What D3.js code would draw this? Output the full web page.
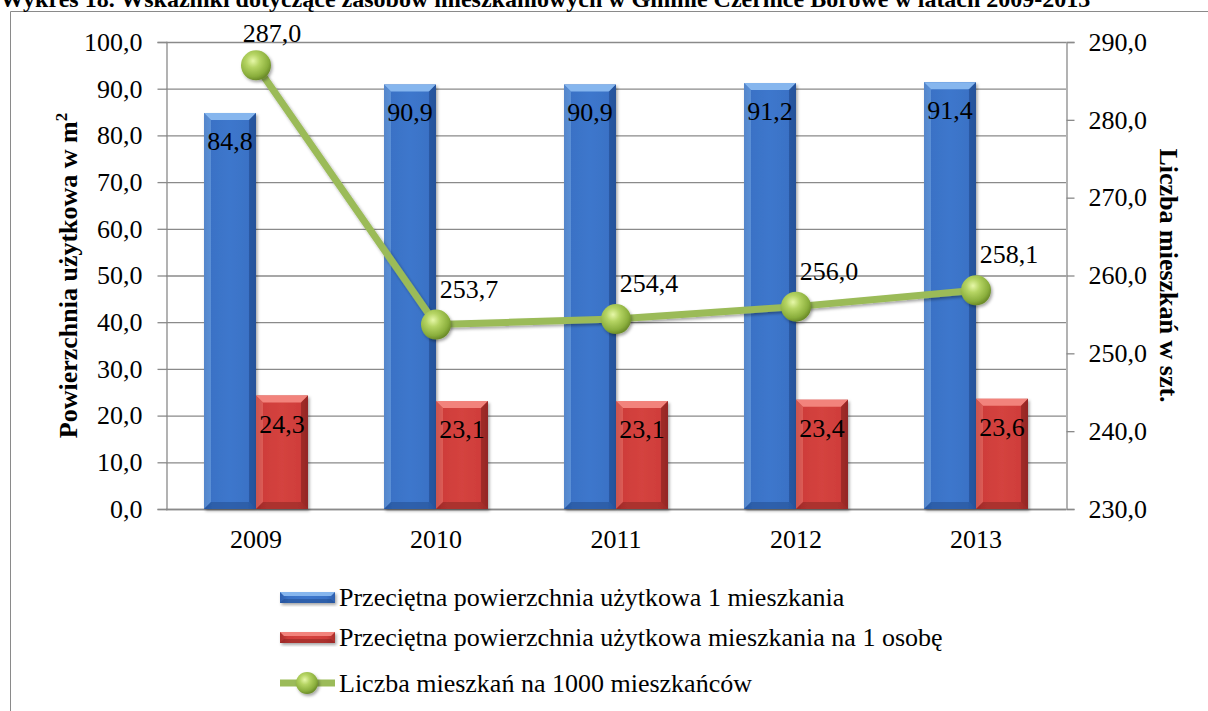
<!DOCTYPE html>
<html><head><meta charset="utf-8">
<script src="https://cdn.jsdelivr.net/npm/d3@7/dist/d3.min.js"></script>
<style>body{margin:0;background:#fff}svg{display:block;font-family:"Liberation Serif","Times New Roman",serif}</style>
</head><body>
<script>
const years = ["2009","2010","2011","2012","2013"];
const avgArea = [84.8, 90.9, 90.9, 91.2, 91.4];
const areaPerPerson = [24.3, 23.1, 23.1, 23.4, 23.6];
const flatsPer1000 = [287.0, 253.7, 254.4, 256.0, 258.1];
const leftTicks = [0,10,20,30,40,50,60,70,80,90,100];
const rightTicks = [230,240,250,260,270,280,290];
const seriesNames = ["Przeciętna powierzchnia użytkowa 1 mieszkania","Przeciętna powierzchnia użytkowa mieszkania na 1 osobę","Liczba mieszkań na 1000 mieszkańców"];
const title = "Wykres 18. Wskaźniki dotyczące zasobów mieszkaniowych w Gminie Czernice Borowe w latach 2009-2013";

const W=1208,H=711, FS=26;
const m={l:166,r:1066,t:42,b:509};
const fmt = v => v.toFixed(1).replace(".",",");
const svg=d3.select("body").append("svg").attr("width",W).attr("height",H);
const defs=svg.append("defs");
function hgrad(id,stops){const g=defs.append("linearGradient").attr("id",id).attr("x1","0").attr("x2","1").attr("y1","0").attr("y2","0");stops.forEach(s=>g.append("stop").attr("offset",s[0]).attr("stop-color",s[1]));}
hgrad("gBlue",[[0,"#2d5fae"],[0.15,"#3a72c6"],[0.5,"#3d77cc"],[0.85,"#3a72c6"],[1,"#2d5fae"]]);
hgrad("gRed",[[0,"#a92f2c"],[0.15,"#cf3d3a"],[0.5,"#d4433f"],[0.85,"#cf3d3a"],[1,"#a92f2c"]]);
const rg=defs.append("radialGradient").attr("id","gBall").attr("cx","0.4").attr("cy","0.35").attr("r","0.65");
[[0,"#e6f7a8"],[0.35,"#b5d463"],[0.8,"#8aae3c"],[1,"#6c8c2a"]].forEach(s=>rg.append("stop").attr("offset",s[0]).attr("stop-color",s[1]));
const f=defs.append("filter").attr("id","sh").attr("x","-30%").attr("y","-30%").attr("width","160%").attr("height","160%");
f.append("feDropShadow").attr("dx",1.5).attr("dy",2).attr("stdDeviation",1.5).attr("flood-color","#000").attr("flood-opacity",0.35);

// frame
svg.append("path").attr("d",`M10.5,${H} V11.5 H${W}`).attr("fill","none").attr("stroke","#8a8a8a").attr("stroke-width",1);
// title
svg.append("text").attr("x",0).attr("y",7).attr("font-size",24).attr("font-weight","bold").text(title);

const x=d3.scaleBand().domain(years).range([m.l,m.r]).paddingInner(0).paddingOuter(0);
const yL=d3.scaleLinear().domain([0,100]).range([m.b,m.t]);
const yR=d3.scaleLinear().domain([230,290]).range([m.b,m.t]);

// gridlines
svg.append("g").selectAll("line").data(leftTicks).join("line")
 .attr("x1",m.l).attr("x2",m.r).attr("y1",d=>yL(d)+0.5).attr("y2",d=>yL(d)+0.5)
 .attr("stroke","#8a8a8a").attr("stroke-width",1.3);

// axes
const axL=svg.append("g").attr("transform",`translate(${m.l+0.5},0)`)
 .call(d3.axisLeft(yL).tickValues(leftTicks).tickFormat(fmt).tickSize(9).tickPadding(15));
const axR=svg.append("g").attr("transform",`translate(${m.r+0.5},0)`)
 .call(d3.axisRight(yR).tickValues(rightTicks).tickFormat(fmt).tickSize(8).tickPadding(14));
const axB=svg.append("g").attr("transform",`translate(0,${m.b+0.5})`)
 .call(d3.axisBottom(x).tickSize(0).tickPadding(20));
[axL,axR,axB].forEach(a=>{a.attr("font-family",null);a.selectAll("path,line").attr("stroke","#8a8a8a").attr("stroke-width",1.3);a.selectAll("text").attr("font-size",FS).attr("fill","#000");});
axB.select("path").attr("d",`M${m.l},0H${m.r}`);

// bars
const bw=52;
function bar(g,xl,top,bot,fill,light,dark){
  const h=bot-top, b=Math.min(7,h/2);
  g.append("rect").attr("x",xl).attr("y",top).attr("width",bw).attr("height",h).attr("fill",fill);
  g.append("path").attr("d",`M${xl},${top}H${xl+bw}L${xl+bw-b},${top+b}H${xl+b}Z`).attr("fill",light);
  g.append("path").attr("d",`M${xl},${top}L${xl+b},${top+b}V${bot-b}L${xl},${bot}Z`).attr("fill",light).attr("opacity",0.45);
  g.append("path").attr("d",`M${xl+bw},${top}L${xl+bw-b},${top+b}V${bot-b}L${xl+bw},${bot}Z`).attr("fill",dark).attr("opacity",0.6);
  g.append("path").attr("d",`M${xl},${bot}L${xl+b},${bot-b}H${xl+bw-b}L${xl+bw},${bot}Z`).attr("fill",dark).attr("opacity",0.5);
}
const gb=svg.append("g");
years.forEach((yr,i)=>{
  const c=x(yr)+x.bandwidth()/2;
  const g1=gb.append("g").attr("filter","url(#sh)");
  bar(g1,c-bw,yL(avgArea[i]),m.b,"url(#gBlue)","#86b6ee","#1f4a8c");
  const g2=gb.append("g").attr("filter","url(#sh)");
  bar(g2,c,yL(areaPerPerson[i]),m.b,"url(#gRed)","#f2837b","#862220");
  gb.append("text").attr("x",c-bw/2).attr("y",yL(avgArea[i])+37).attr("text-anchor","middle").attr("font-size",FS).text(fmt(avgArea[i]));
  gb.append("text").attr("x",c+bw/2).attr("y",yL(areaPerPerson[i])+37).attr("text-anchor","middle").attr("font-size",FS).text(fmt(areaPerPerson[i]));
});

// line
const cx=yr=>x(yr)+x.bandwidth()/2;
const lineGen=d3.line().x((d,i)=>cx(years[i])).y(d=>yR(d));
svg.append("path").datum(flatsPer1000).attr("d",lineGen).attr("fill","none").attr("stroke","#9bbb59").attr("stroke-width",7).attr("filter","url(#sh)");
svg.append("g").selectAll("circle").data(flatsPer1000).join("circle")
 .attr("cx",(d,i)=>cx(years[i])).attr("cy",d=>yR(d)).attr("r",15).attr("fill","url(#gBall)").attr("filter","url(#sh)");
svg.append("g").selectAll("text").data(flatsPer1000).join("text")
 .attr("x",(d,i)=>cx(years[i])+(i===0?16:33)).attr("y",(d,i)=>yR(d)-(i===0?23:27))
 .attr("text-anchor","middle").attr("font-size",FS).text(fmt);

// axis titles
svg.append("text").attr("transform",`translate(77,${(m.t+m.b)/2}) rotate(-90)`).attr("text-anchor","middle")
 .attr("font-size",FS).attr("font-weight","bold").html('Powierzchnia użytkowa w m<tspan dy="-10" font-size="17">2</tspan>');
svg.append("text").attr("transform",`translate(1160,${(m.t+m.b)/2}) rotate(90)`).attr("text-anchor","middle")
 .attr("font-size",FS).attr("font-weight","bold").text("Liczba mieszkań w szt.");

// legend
const lg=svg.append("g");
const ly=[597,637,683];
const lx=280;
function legBar(y,fill,light,dark){
  const g=lg.append("g").attr("filter","url(#sh)");
  g.append("rect").attr("x",lx).attr("y",y-5).attr("width",55).attr("height",11).attr("fill",fill);
  g.append("path").attr("d",`M${lx},${y-5}H${lx+55}L${lx+51},${y-1}H${lx+4}Z`).attr("fill",light);
  g.append("path").attr("d",`M${lx},${y+6}L${lx+4},${y+2}H${lx+51}L${lx+55},${y+6}Z`).attr("fill",dark).attr("opacity",0.5);
}
legBar(ly[0],"url(#gBlue)","#86b6ee","#1f4a8c");
legBar(ly[1],"url(#gRed)","#f2837b","#862220");
lg.append("line").attr("x1",lx).attr("x2",lx+55).attr("y1",ly[2]).attr("y2",ly[2]).attr("stroke","#9bbb59").attr("stroke-width",7);
lg.append("circle").attr("cx",lx+27).attr("cy",ly[2]).attr("r",11).attr("fill","url(#gBall)").attr("filter","url(#sh)");
lg.selectAll("text.l").data(seriesNames).join("text").attr("class","l").attr("x",lx+59).attr("y",(d,i)=>ly[i]+9).attr("font-size",FS).text(d=>d);
</script>
</body></html>
